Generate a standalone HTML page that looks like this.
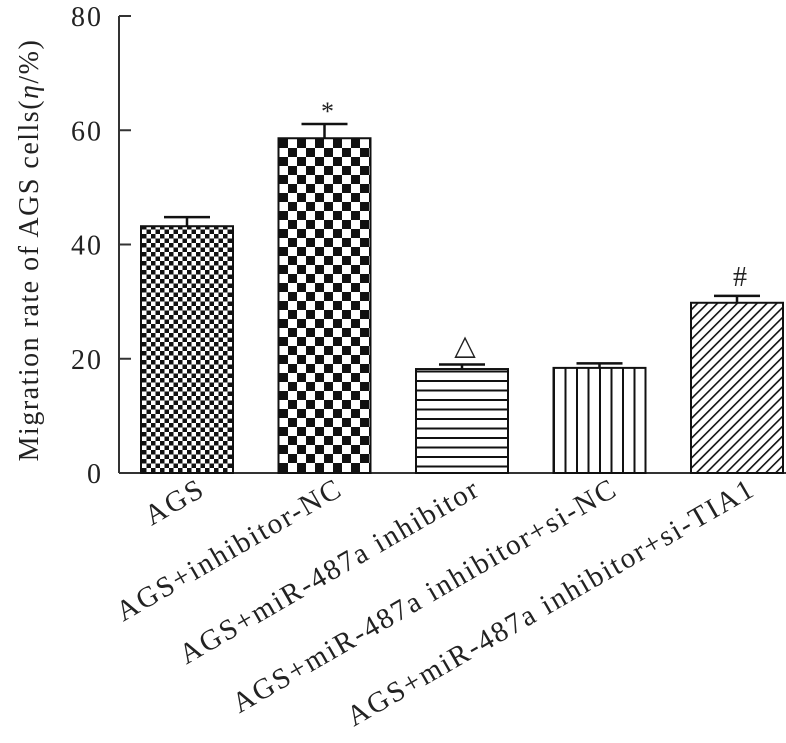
<!DOCTYPE html>
<html><head><meta charset="utf-8"><style>body{margin:0;background:#fff}svg{display:block}text{font-family:"Liberation Serif",serif;fill:#222}</style></head>
<body>
<svg id="chart" width="786" height="743" viewBox="0 0 786 743">
<defs>
<pattern id="p0" width="9" height="9" patternUnits="userSpaceOnUse" x="142" y="0"><rect width="9" height="9" fill="#fff"/><rect width="4.5" height="4.5" fill="#111"/><rect x="4.5" y="4.5" width="4.5" height="4.5" fill="#111"/></pattern>
<pattern id="p1" width="18" height="18" patternUnits="userSpaceOnUse" x="279" y="139"><rect width="18" height="18" fill="#fff"/><rect width="9" height="9" fill="#111"/><rect x="9" y="9" width="9" height="9" fill="#111"/></pattern>
<pattern id="p2" width="10" height="9.5" patternUnits="userSpaceOnUse"><rect width="10" height="9.5" fill="#fff"/><rect y="0" width="10" height="2" fill="#111"/></pattern>
<pattern id="p3" width="11.5" height="10" patternUnits="userSpaceOnUse" x="553"><rect width="11.5" height="10" fill="#fff"/><rect width="2" height="10" fill="#111"/></pattern>
<pattern id="p4" width="7" height="7" patternUnits="userSpaceOnUse" patternTransform="rotate(45)"><rect width="7" height="7" fill="#fff"/><rect width="1.6" height="7" fill="#111"/></pattern>
</defs>
<g id="plot"></g>
</svg>
<script>
const categories=["AGS","AGS+inhibitor-NC","AGS+miR-487a inhibitor","AGS+miR-487a inhibitor+si-NC","AGS+miR-487a inhibitor+si-TIA1"];
const values=[43.2,58.6,18.2,18.4,29.8];
const errors=[1.6,2.5,0.8,0.8,1.2];
const markers=["","*","△","","#"];
const yTicks=[0,20,40,60,80];
const NS="http://www.w3.org/2000/svg";
const g=document.getElementById("plot");
const x0=119,yBase=473,yTop=16,yMax=80;
const y=v=>yBase-(yBase-yTop)*v/yMax;
const step=137.5,first=187,bw=92;
const cx=i=>first+i*step;
function mk(t,a){const e=document.createElementNS(NS,t);for(const k in a)e.setAttribute(k,a[k]);g.appendChild(e);return e;}
let ax=mk("line",{x1:x0,y1:yTop,x2:x0,y2:yBase,stroke:"#333","stroke-width":2});


let bx=mk("line",{x1:x0,y1:yBase,x2:786,y2:yBase,stroke:"#333","stroke-width":2});


yTicks.forEach(t=>{
  const l=mk("line",{x1:x0,y1:y(t),x2:x0+12,y2:y(t),stroke:"#333","stroke-width":2});
  
  
  const tx=mk("text",{x:103,y:y(t)+10,"text-anchor":"end","font-size":28,"letter-spacing":2});
  tx.textContent=t;
  
  
});
const yl=mk("text",{transform:"translate(38,250) rotate(-90)","text-anchor":"middle","font-size":28,"letter-spacing":1.5});
yl.innerHTML='Migration rate of AGS cells(<tspan font-style="italic">η</tspan>/%)';


values.forEach((v,i)=>{
  const c=cx(i);
  const r=mk("rect",{x:c-bw/2,y:y(v),width:bw,height:yBase-y(v),fill:"url(#p"+i+")",stroke:"#111","stroke-width":2});
  
  
  const e=mk("path",{d:`M${c},${y(v)} V${y(v+errors[i])} M${c-23},${y(v+errors[i])} H${c+23}`,stroke:"#111","stroke-width":2.5,fill:"none"});
  
  
  if(markers[i]){
    const m=mk("text",{x:c+3,y:y(v+errors[i])-(markers[i]=="*"?4:10),"text-anchor":"middle","font-size":markers[i]=="*"?26:28,"font-family":"DejaVu Sans"});
    m.textContent=markers[i];
    
    
  }
  const lb=mk("text",{transform:`translate(${c+20},494) rotate(-30)`,"text-anchor":"end","font-size":29,"letter-spacing":2});
  lb.textContent=categories[i];
  
  
});
</script>
</body></html>
